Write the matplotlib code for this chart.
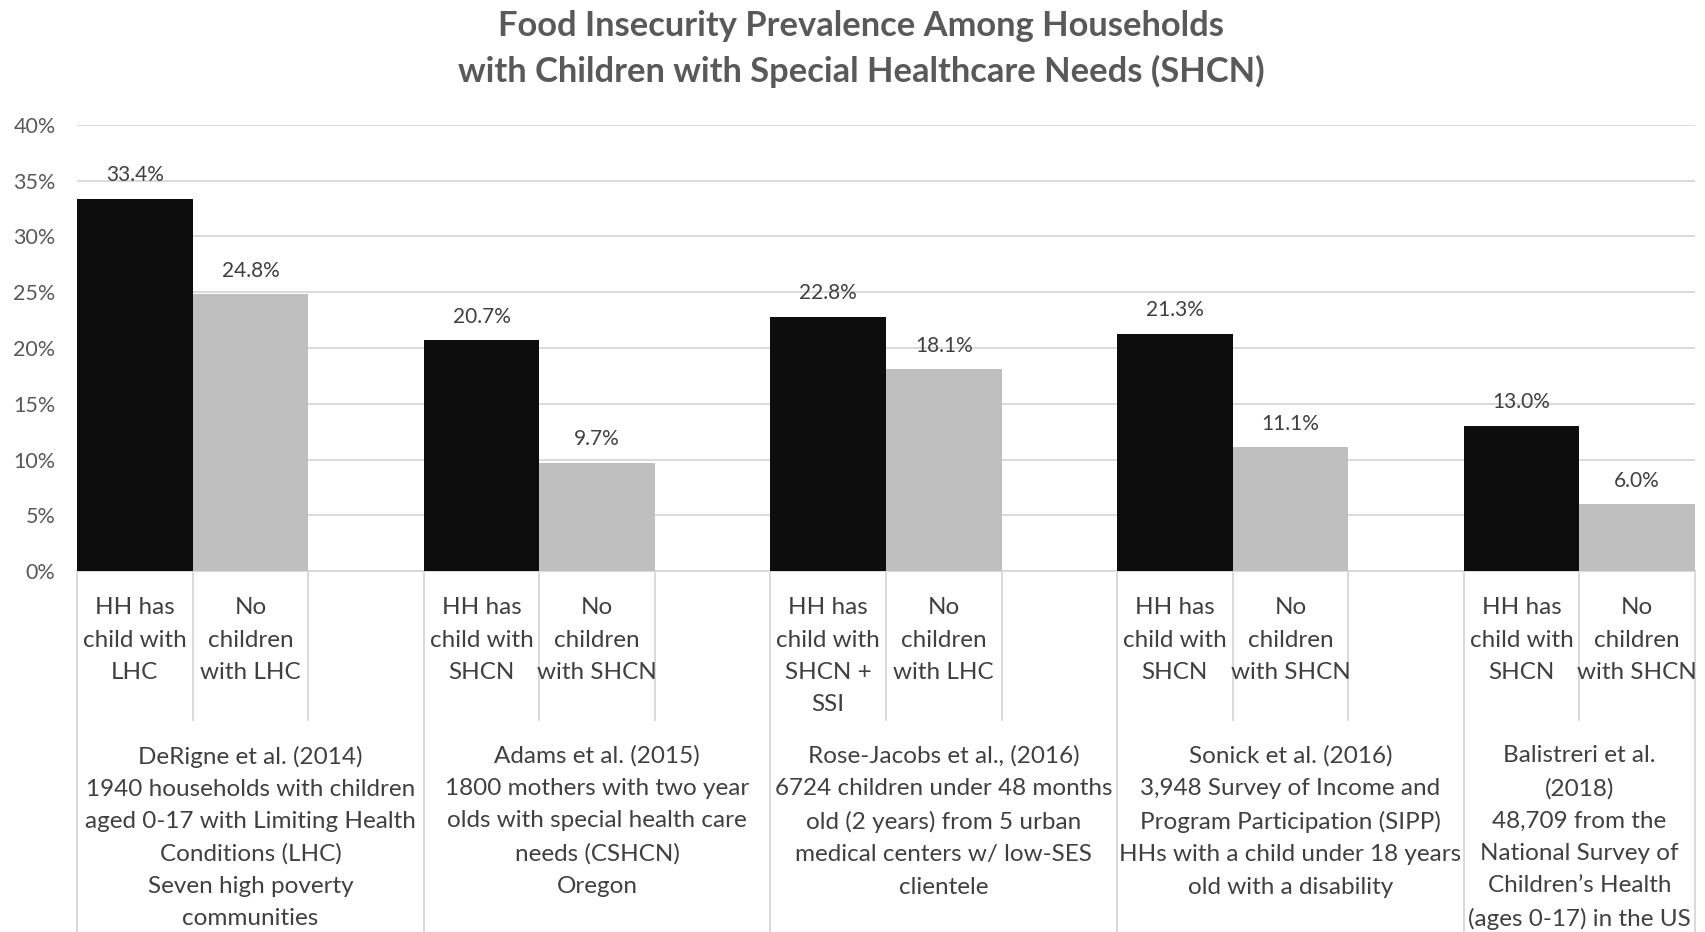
import matplotlib.pyplot as plt
from matplotlib.ticker import FuncFormatter, MultipleLocator

plt.rcParams["font.family"] = ["Lato", "DejaVu Sans"]

# one pair of bars per study, values in percent
hh_values = [33.4, 20.7, 22.8, 21.3, 13.0]
no_values = [24.8, 9.7, 18.1, 11.1, 6.0]

hh_labels = [
    "HH has\nchild with\nLHC",
    "HH has\nchild with\nSHCN",
    "HH has\nchild with\nSHCN +\nSSI",
    "HH has\nchild with\nSHCN",
    "HH has\nchild with\nSHCN",
]
no_labels = [
    "No\nchildren\nwith LHC",
    "No\nchildren\nwith SHCN",
    "No\nchildren\nwith LHC",
    "No\nchildren\nwith SHCN",
    "No\nchildren\nwith SHCN",
]
study_labels = [
    "DeRigne et al. (2014)\n1940 households with children\naged 0-17 with Limiting Health\n"
    "Conditions (LHC)\nSeven high poverty\ncommunities",
    "Adams et al. (2015)\n1800 mothers with two year\nolds with special health care\n"
    "needs (CSHCN)\nOregon",
    "Rose-Jacobs et al., (2016)\n6724 children under 48 months\nold (2 years) from 5 urban\n"
    "medical centers w/ low-SES\nclientele",
    "Sonick et al. (2016)\n3,948 Survey of Income and\nProgram Participation (SIPP)\n"
    "HHs with a child under 18 years\nold with a disability",
    "Balistreri et al.\n(2018)\n48,709 from the\nNational Survey of\n"
    "Children\u2019s Health\n(ages 0-17) in the US",
]

TITLE = "Food Insecurity Prevalence Among Households\nwith Children with Special Healthcare Needs (SHCN)"

BLACK = "#0d0d0d"
GREY = "#bfbfbf"
GRID = "#d9d9d9"
TEXT = "#404040"

SLOTS = 3  # hh bar, no bar, empty gap
n_slots = SLOTS * len(hh_values) - 1


def main() -> None:
    fig = plt.figure(figsize=(17.05, 9.32), dpi=100)
    ax = fig.add_axes([0.0452, 0.3873, 0.9489, 0.4786])

    hh_x = [SLOTS * i for i in range(len(hh_values))]
    no_x = [SLOTS * i + 1 for i in range(len(no_values))]

    ax.bar(hh_x, [v / 100 for v in hh_values], width=1.0, color=BLACK, zorder=3)
    ax.bar(no_x, [v / 100 for v in no_values], width=1.0, color=GREY, zorder=3)

    for x, v in zip(hh_x + no_x, hh_values + no_values):
        ax.annotate(f"{v:.1f}%", (x, v / 100), xytext=(0, 17), textcoords="offset points",
                    ha="center", va="center", fontsize=15, color=TEXT)

    ax.set_xlim(-0.5, n_slots - 0.5)
    ax.set_ylim(0, 0.40)
    ax.yaxis.set_major_locator(MultipleLocator(0.05))
    ax.yaxis.set_major_formatter(FuncFormatter(lambda y, _: f"{y * 100:.0f}%"))
    ax.tick_params(axis="y", length=0, pad=15.5, labelsize=15.5, labelcolor="#595959")
    ax.set_xticks([])
    ax.grid(axis="y", color=GRID, linewidth=1.4, zorder=0)
    for side in ["top", "right", "left"]:
        ax.spines[side].set_visible(False)
    ax.spines["bottom"].set_color(GRID)
    ax.spines["bottom"].set_linewidth(1.4)

    trans = ax.get_xaxis_transform()
    tier1_bottom = -0.334
    fig_bottom = -0.81

    # category boundaries (short) and study boundaries (long)
    for b in range(n_slots + 1):
        edge = b - 0.5
        is_group = b % SLOTS == 0 or b == n_slots
        y_end = fig_bottom if is_group else tier1_bottom
        ax.plot([edge, edge], [0, y_end], transform=trans, color=GRID,
                linewidth=1.4, clip_on=False)

    for x, lab in zip(hh_x + no_x, hh_labels + no_labels):
        ax.text(x, -0.059, lab, transform=trans, ha="center", va="top",
                fontsize=17.5, color=TEXT, linespacing=1.66)

    for i, lab in enumerate(study_labels):
        left = SLOTS * i - 0.5
        right = min(SLOTS * (i + 1), n_slots) - 0.5
        ax.text((left + right) / 2, -0.391, lab, transform=trans, ha="center", va="top",
                fontsize=17.5, color=TEXT, linespacing=1.66)

    fig.text(0.505, 0.989, TITLE, ha="center", va="top", fontsize=24.8,
             fontweight="bold", color="#595959", linespacing=1.45)

    fig.savefig("out.png", dpi=100)
    plt.close(fig)


if __name__ == "__main__":
    main()
